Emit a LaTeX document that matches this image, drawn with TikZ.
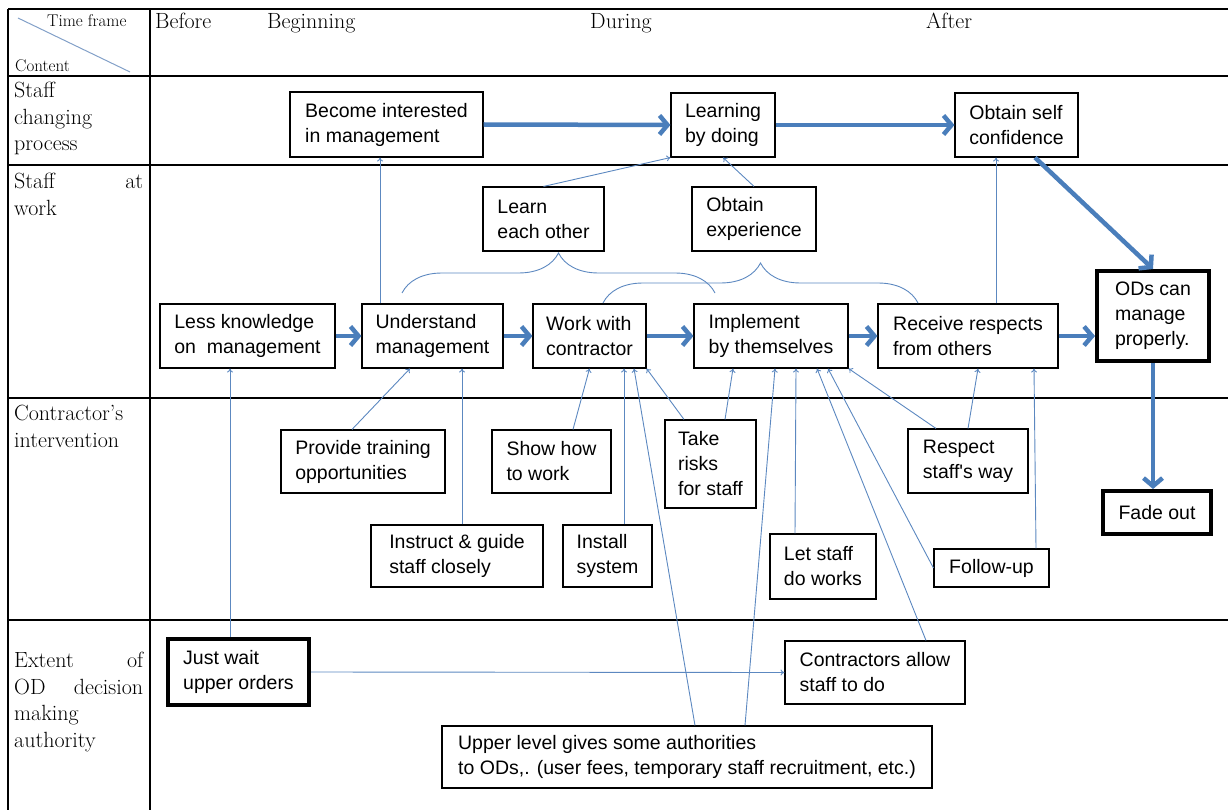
\documentclass[tikz,border=0pt]{standalone}
\usepackage{fontspec}
\newfontfamily\boxfont{Liberation Sans}
\usetikzlibrary{arrows.meta,decorations.pathreplacing}
\definecolor{flowblue}{RGB}{74,126,187}
\definecolor{linkblue}{RGB}{92,136,192}
\definecolor{diagblue}{RGB}{130,160,200}

\begin{document}
\begin{tikzpicture}[x=1pt, y=-1pt,
    box/.style={draw, line width=1.1pt, align=left, inner sep=0pt, font=\boxfont\fontsize{19.5}{25}\selectfont},
    boldbox/.style={box, line width=4pt},
    boxsize/.style 2 args={minimum width=#1pt, minimum height=#2pt},
    flow/.style={-{Straight Barb[length=8pt,width=19pt]}, line width=4.5pt, flowblue},
    link/.style={-{To[length=4pt,width=6pt]}, line width=0.9pt, linkblue},
    grp/.style={decorate, decoration={brace, amplitude=40pt}, line width=0.9pt, linkblue},
    rowlabel/.style={anchor=north west, inner sep=0pt, text width=129pt, align=left, font=\fontsize{22}{26.5}\selectfont},
    colhead/.style={anchor=base west, inner sep=0pt, font=\fontsize{22}{26.5}\selectfont}]
    \useasboundingbox (0,0) rectangle (1228,810);

    % Table grid
    \foreach \y in {9,76,165,398,620}
        \draw[line width=1.2pt] (8,\y) -- (1228,\y);
    \draw[line width=1.2pt] (8,9) -- (8,810);
    \draw[line width=1.2pt] (150,9) -- (150,810);
    \draw[diagblue, line width=1pt] (18,18) -- (130,72);

    % Header texts
    \node[anchor=base west, inner sep=0pt, font=\fontsize{17}{20}\selectfont] (timeframe) at (47,27) {Time frame};
    \node[anchor=base west, inner sep=0pt, font=\fontsize{17}{20}\selectfont] (content) at (15,72) {Content};
    \node[colhead] (before) at (155,29) {Before};
    \node[colhead] (beginning) at (267,29) {Beginning};
    \node[colhead] (during) at (590,29) {During};
    \node[colhead] (after) at (926,29) {After};

    % Row labels
    \node[rowlabel] (rowchange) at (14,82) {Staff\\changing\\process};
    \node[rowlabel] (rowwork) at (14,173) {Staff \hfill at\\work};
    \node[rowlabel] (rowcontract) at (14,405) {Contractor's\\intervention};
    \node[rowlabel] (rowauth) at (14,652) {Extent \hfill of\\OD \hfill decision\\making\\authority};

    % Staff changing process
    \node[box, boxsize={193}{65}] (interest) at (386.5,124.5) {Become interested\\in management};
    \node[box, boxsize={104}{64}] (learning) at (723,125) {Learning\\by doing};
    \node[box, boxsize={123}{64}] (confidence) at (1016.5,125) {Obtain self\\confidence};

    % Staff at work
    \node[box, boxsize={121}{64}] (eachother) at (543.5,219) {Learn\\each other};
    \node[box, boxsize={124}{64}] (experience) at (754,219) {Obtain\\experience};
    \node[box, boxsize={175}{64}] (lessknow) at (247.5,336) {Less knowledge\\on~ management};
    \node[box, boxsize={141}{64}] (understand) at (432.5,336) {Understand\\management};
    \node[box, boxsize={113}{64}] (workwith) at (589.5,336) {Work with\\contractor};
    \node[box, boxsize={154}{64}] (implement) at (771,336) {Implement\\by themselves};
    \node[box, boxsize={180}{64}] (respects) at (968,336) {Receive respects\\from others};
    \node[boldbox, boxsize={112}{90}] (manage) at (1153,316) {ODs can\\manage\\properly.};
    \node[boldbox, boxsize={108}{43}] (fadeout) at (1157,512.5) {Fade out};

    % Contractor's intervention
    \node[box, boxsize={164}{63}] (training) at (363,461.5) {Provide training\\opportunities};
    \node[box, boxsize={119}{63}] (showhow) at (551.5,461.5) {Show how\\to work};
    \node[box, boxsize={172}{62}] (instruct) at (457,556) {Instruct \& guide\\staff closely};
    \node[box, boxsize={89}{62}] (install) at (607.5,556) {Install\\system};
    \node[box, boxsize={91}{88}] (risks) at (710.5,464) {Take\\risks\\for staff};
    \node[box, boxsize={106}{65}] (letstaff) at (823,566.5) {Let staff\\do works};
    \node[box, boxsize={120}{64}] (respectway) at (968,461) {Respect\\staff's way};
    \node[box, boxsize={115}{38}] (followup) at (991.5,568) {Follow-up};

    % Extent of OD decision making authority
    \node[boldbox, boxsize={141}{66}] (justwait) at (238.5,672) {Just wait\\upper orders};
    \node[box, boxsize={180}{63}] (allow) at (875,672.5) {Contractors allow\\staff to do};
    \node[box, boxsize={490}{62}] (upper) at (687,757) {Upper level gives some authorities\\to ODs,. (user fees, temporary staff recruitment, etc.)};

    % Braces over the work steps
    \draw[grp] (402,293) -- (715,293);
    \draw[grp] (603,303) -- (918,303);

    % Main flow
    \draw[flow] (interest.east) -- (learning.west);
    \draw[flow] (learning.east) -- (confidence.west);
    \draw[flow] ([xshift=18.5pt]confidence.south) -- (manage.north);
    \draw[flow] (lessknow.east) -- (understand.west);
    \draw[flow] (understand.east) -- (workwith.west);
    \draw[flow] (workwith.east) -- (implement.west);
    \draw[flow] (implement.east) -- (respects.west);
    \draw[flow] (respects.east) -- (respects.east -| manage.west);
    \draw[flow] (manage.south) -- (manage.south |- fadeout.north);

    % Thin links
    \draw[link] ([xshift=-52.5pt]understand.north) -- ([xshift=-6.5pt]interest.south);
    \draw[link] (eachother.north) -- (learning.south west);
    \draw[link] (experience.north) -- (learning.south);
    \draw[link] ([xshift=28pt]respects.north) -- ([xshift=-20.5pt]confidence.south);
    \draw[link] ([xshift=-8.5pt]justwait.north) -- ([xshift=-17.5pt]lessknow.south);
    \draw[link] ([xshift=-11pt]training.north) -- ([xshift=-22.5pt]understand.south);
    \draw[link] ([xshift=5pt]instruct.north) -- ([xshift=29.5pt]understand.south);
    \draw[link] ([xshift=21.5pt]showhow.north) -- (workwith.south);
    \draw[link] ([xshift=16.5pt]install.north) -- ([xshift=34.5pt]workwith.south);
    \draw[link] ([xshift=-26.5pt]risks.north) -- (workwith.south east);
    \draw[link] ([xshift=14.5pt]risks.north) -- ([xshift=-38pt]implement.south);
    \draw[link] ([xshift=8pt]upper.north) -- ([xshift=44.5pt]workwith.south);
    \draw[link] ([xshift=58pt]upper.north) -- ([xshift=4pt]implement.south);
    \draw[link] ([xshift=-28pt]letstaff.north) -- ([xshift=25pt]implement.south);
    \draw[link] ([xshift=51pt]allow.north) -- ([xshift=46pt]implement.south);
    \draw[link] (followup.west) -- ([xshift=57pt]implement.south);
    \draw[link] ([xshift=-32pt]respectway.north) -- (implement.south east);
    \draw[link] (respectway.north) -- ([xshift=10pt]respects.south);
    \draw[link] ([xshift=44.5pt]followup.north) -- ([xshift=66pt]respects.south);
    \draw[link] (justwait.east) -- (allow.west);
\end{tikzpicture}
\end{document}
